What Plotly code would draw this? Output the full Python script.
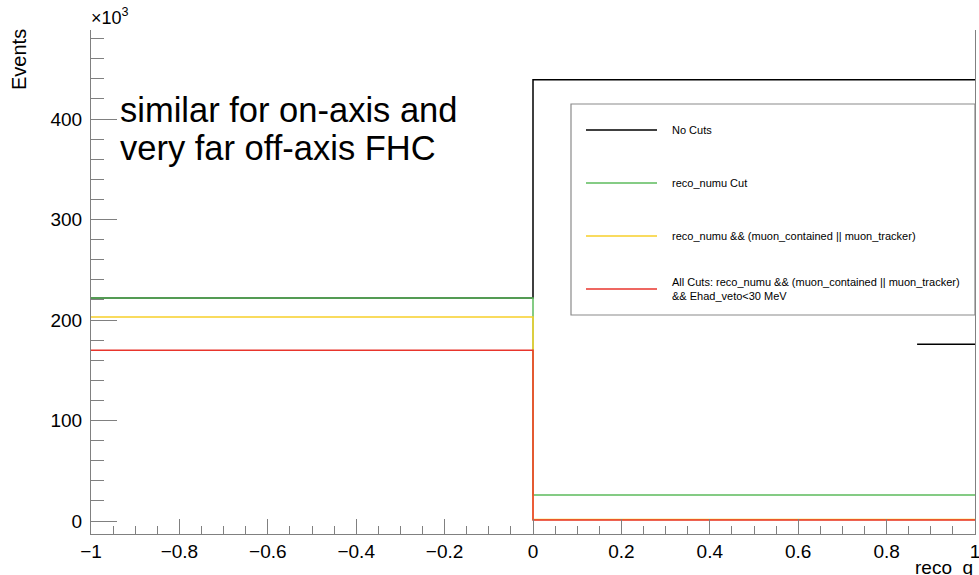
import plotly.graph_objects as go

# Histogram bin edges and contents (Events, in units of 10^3)
bin_edges = [-1.0, 0.0, 1.0]
no_cuts = [222, 439]
reco_numu_cut = [222, 26]
reco_numu_muon = [203, 1.5]
all_cuts = [170, 1]

series_names = ["No Cuts", "reco_numu Cut",
                "reco_numu && (muon_contained || muon_tracker)",
                "All Cuts: reco_numu && (muon_contained || muon_tracker)<br>&& Ehad_veto<30 MeV"]
series_values = [no_cuts, reco_numu_cut, reco_numu_muon, all_cuts]
series_colors = ["#000000", "#5cbb5c", "#f7cf2a", "#e8352c"]

FONT = "Liberation Sans, Arial, sans-serif"

fig = go.Figure()
for name, vals, col in zip(series_names, series_values, series_colors):
    fig.add_trace(go.Scatter(
        x=bin_edges, y=vals + [vals[-1]], mode="lines",
        line=dict(color=col, width=1.5, shape="hv"),
        name=name, showlegend=False, hoverinfo="skip"))

# extra black segment seen at right
fig.add_shape(type="line", xref="x", yref="y", x0=0.869, x1=1.0, y0=176, y1=176,
              line=dict(color="#000000", width=1.5))

px0, pw, py0, ph = 91, 884, 534, 504
def xp(px):
    return (px - px0) / pw
def yp(py):
    return (py0 - py) / ph

# Legend box (drawn manually, ROOT style)
fig.add_shape(type="rect", xref="paper", yref="paper",
              x0=xp(571), x1=1.0, y0=yp(315), y1=yp(104),
              line=dict(color="#8a8a8a", width=1.2), fillcolor="white", layer="above")
leg_y = [130, 183, 236, 289]
for name, col, ly in zip(series_names, series_colors, leg_y):
    fig.add_shape(type="line", xref="paper", yref="paper",
                  x0=xp(586), x1=xp(657), y0=yp(ly), y1=yp(ly),
                  line=dict(color=col, width=1.3), layer="above")
    fig.add_annotation(xref="paper", yref="paper", x=xp(670), y=yp(ly),
                       text=name, showarrow=False, xanchor="left", yanchor="middle",
                       align="left", font=dict(family=FONT, size=11, color="#000"))

# Big comment text
fig.add_annotation(xref="paper", yref="paper", x=xp(118), y=yp(110),
                   text="similar for on-axis and", showarrow=False,
                   xanchor="left", yanchor="middle", font=dict(family=FONT, size=34.5, color="#000"))
fig.add_annotation(xref="paper", yref="paper", x=xp(118), y=yp(148),
                   text="very far off-axis FHC", showarrow=False,
                   xanchor="left", yanchor="middle", font=dict(family=FONT, size=34.5, color="#000"))

# Axis titles & exponent
fig.add_annotation(xref="paper", yref="paper", x=xp(89), y=yp(30),
                   text="×10<sup>3</sup>", showarrow=False, xanchor="left", yanchor="bottom",
                   font=dict(family=FONT, size=18, color="#000"))
fig.add_annotation(xref="paper", yref="paper", x=xp(19), y=yp(60),
                   text="Events", textangle=-90, showarrow=False, xanchor="center", yanchor="middle",
                   font=dict(family=FONT, size=20, color="#000"))
fig.add_annotation(xref="paper", yref="paper", x=xp(913), y=yp(555),
                   text="reco_q", showarrow=False, xanchor="left", yanchor="top",
                   font=dict(family=FONT, size=19, color="#000"))

axis_col = "#808080"
fig.update_xaxes(range=[-1, 1], dtick=0.2, tick0=0, ticks="inside", ticklen=15, tickwidth=1,
                 tickcolor=axis_col, showline=True, linecolor=axis_col, linewidth=1,
                 showgrid=False, zeroline=False, ticklabeloverflow="allow", automargin=False,
                 tickfont=dict(family=FONT, size=19, color="#000"),
                 minor=dict(dtick=0.05, tick0=0, ticks="inside", ticklen=8, tickcolor=axis_col, showgrid=False))
fig.update_yaxes(range=[-12.9, 488.6], dtick=100, tick0=0, ticks="inside", ticklen=26, tickwidth=1,
                 tickcolor=axis_col, showline=True, linecolor=axis_col, linewidth=1, mirror=True,
                 showgrid=False, zeroline=False, ticklabelstandoff=4, automargin=False,
                 tickfont=dict(family=FONT, size=19, color="#000"),
                 minor=dict(dtick=20, tick0=0, ticks="inside", ticklen=13, tickcolor=axis_col, showgrid=False))

fig.update_layout(width=979, height=575, margin=dict(l=91, r=4, t=30, b=41),
                  plot_bgcolor="white", paper_bgcolor="white", showlegend=False)

fig.write_html("out.html", config={"displayModeBar": False},
               post_script="document.body.style.margin='0';document.body.style.overflow='hidden';")
